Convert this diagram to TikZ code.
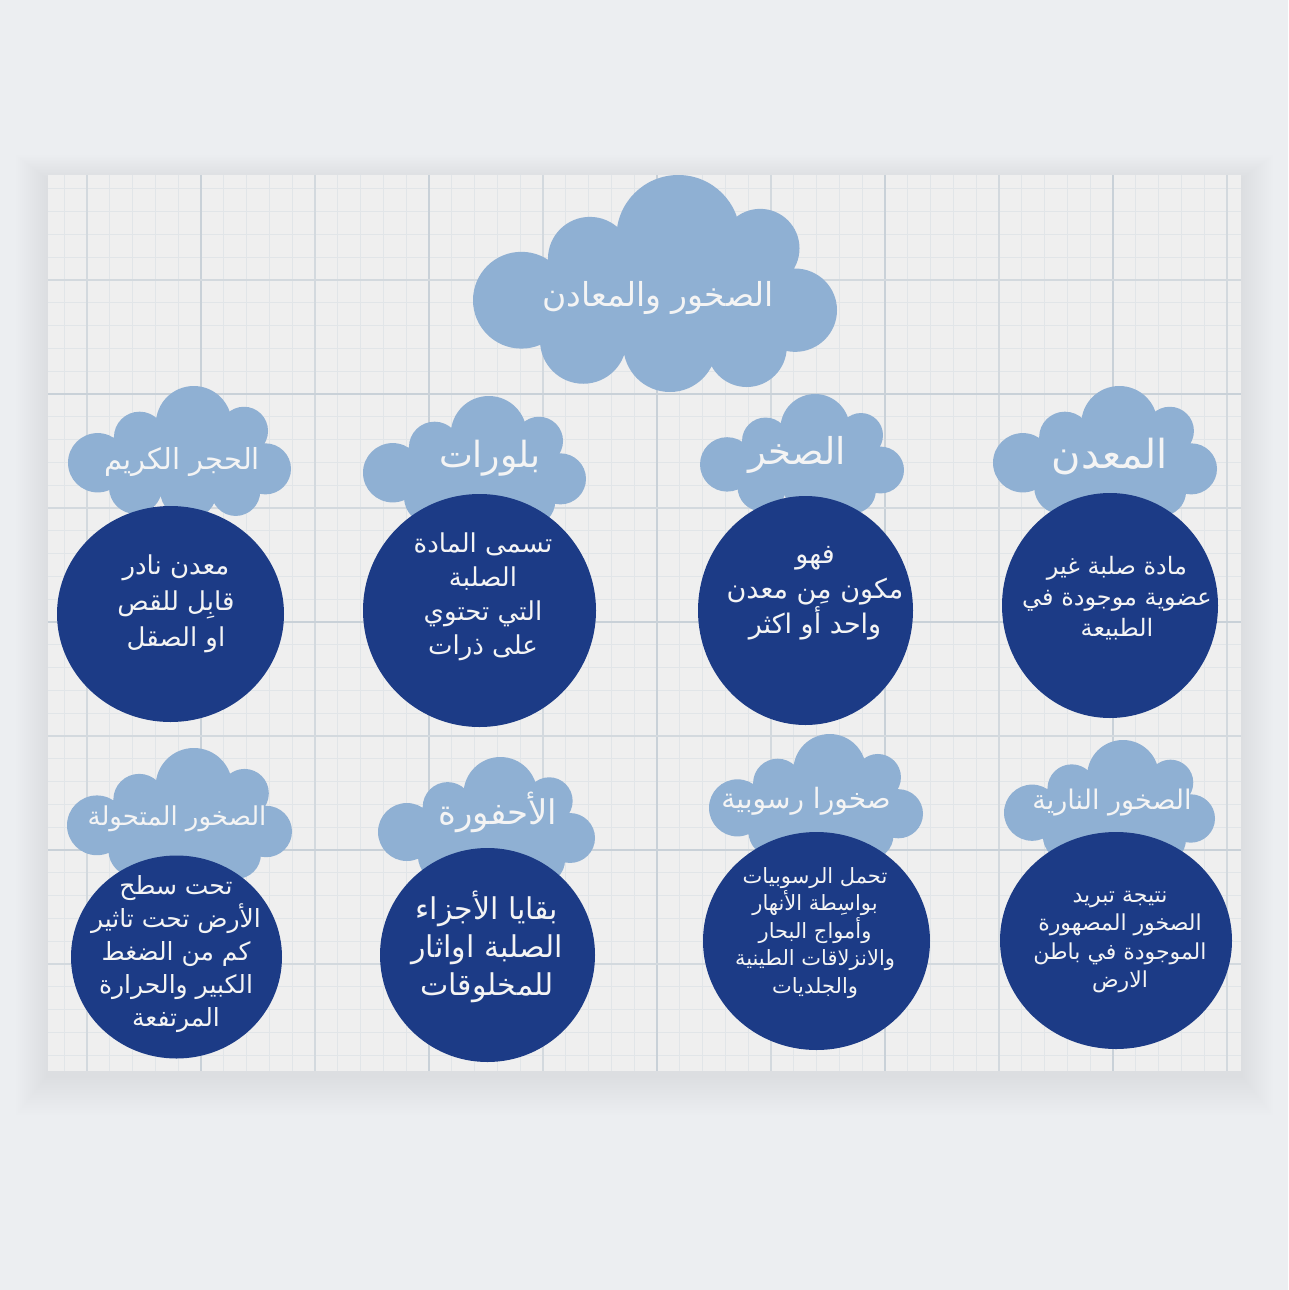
\documentclass[tikz,border=0pt]{standalone}
\usepackage{fontspec}
\newfontfamily\arabicfont[Script=Arabic]{DejaVu Sans}
\TeXXeTstate=1
\definecolor{bgc}{HTML}{ECEEF1}
\definecolor{panelc}{HTML}{EFEFEF}
\definecolor{gminor}{HTML}{E1E5E8}
\definecolor{gmed}{HTML}{D3D9DE}
\definecolor{gmaj}{HTML}{C9D1D8}
\definecolor{cloudc}{HTML}{8FB0D3}
\definecolor{circc}{HTML}{1C3B86}
\definecolor{txtc}{HTML}{F4F4F4}
\newcommand\AR[1]{\beginR #1\endR}
\newcommand\drawcloud[4]{%
\begin{scope}[shift={(#1,#2)},xscale=#3,yscale=#4]
\fill[cloudc]
 (0.133,0.577) ellipse [x radius=0.133pt, y radius=0.223pt]
 (0.321,0.385) ellipse [x radius=0.115pt, y radius=0.192pt]
 (0.564,0.285) ellipse [x radius=0.170pt, y radius=0.285pt]
 (0.789,0.338) ellipse [x radius=0.108pt, y radius=0.182pt]
 (0.885,0.623) ellipse [x radius=0.115pt, y radius=0.192pt]
 (0.752,0.792) ellipse [x radius=0.110pt, y radius=0.185pt]
 (0.541,0.785) ellipse [x radius=0.128pt, y radius=0.215pt]
 (0.303,0.762) ellipse [x radius=0.119pt, y radius=0.200pt];
\fill[cloudc] (0.133,0.577) -- (0.321,0.385) -- (0.564,0.285) -- (0.789,0.338)
 -- (0.885,0.623) -- (0.752,0.792) -- (0.541,0.785) -- (0.303,0.762) -- cycle;
\end{scope}}
\newcommand\drawdisc[4]{\fill[circc] (#1,#2) ellipse [x radius=#3pt, y radius=#4pt];}
\tikzset{
  ctext/.style={text=txtc, inner sep=0pt, align=center},
}
\begin{document}
\begin{tikzpicture}[x=1pt,y=-1pt]
\fill[bgc] (0,0) rectangle (1288,1290);
\useasboundingbox (0,0) rectangle (1288,1290);
% soft shadow
\foreach \i in {1,...,16}{
  \fill[black!70!blue, opacity=0.003] (48-2*\i,175-1.5*\i+4) rectangle (1241+2*\i,1071+2.5*\i+4);
}
% panel
\fill[panelc] (48,175) rectangle (1241,1071);
\begin{scope}
\clip (48,175) rectangle (1241,1071);
\foreach \k in {-2,...,52}{
  \draw[gminor, line width=1pt] (87+22.8*\k,175) -- (87+22.8*\k,1071);
}
\foreach \k in {-5,...,35}{
  \draw[gminor, line width=1pt] (48,280+22.8*\k) -- (1241,280+22.8*\k);
}
\foreach \xx in {87,315,543,771,999,1227}{
  \draw[gmed, line width=1.5pt] (\xx,175) -- (\xx,1071);
}
\foreach \xx in {201,429,657,885,1113}{
  \draw[gmaj, line width=2pt] (\xx,175) -- (\xx,1071);
}
\foreach \yy in {280,508,736,964}{
  \draw[gmed, line width=1.5pt] (48,\yy) -- (1241,\yy);
}
\foreach \yy in {394,622,850}{
  \draw[gmaj, line width=2pt] (48,\yy) -- (1241,\yy);
}
\end{scope}
% clouds
\drawcloud{473}{175}{364}{217}
\drawcloud{68}{386}{223}{133}
\drawcloud{363}{396}{223}{133}
\drawcloud{700}{394}{204}{122}
\drawcloud{993}{386}{224}{133}
\drawcloud{67}{748}{225}{134}
\drawcloud{378}{757}{217}{130}
\drawcloud{709}{734}{214}{128}
\drawcloud{1004}{740}{211}{126}
% discs
\drawdisc{170.5}{614}{113.5}{108}
\drawdisc{479.5}{610.5}{116.5}{116.5}
\drawdisc{805.5}{610.5}{107.5}{114.5}
\drawdisc{1110}{605.5}{108}{112.5}
\drawdisc{176.5}{957}{105.5}{101.5}
\drawdisc{487.5}{955}{107.5}{107}
\drawdisc{816.5}{941}{113.5}{109}
\drawdisc{1116}{940.5}{116}{108.5}
% title
\node[ctext, font=\arabicfont\fontsize{33}{38}\selectfont] (title) at (658,298) {\AR{الصخور والمعادن}};
% row 1 cloud labels
\node[ctext, font=\arabicfont\fontsize{29}{34}\selectfont] (h1) at (182,462) {\AR{الحجر الكريم}};
\node[ctext, font=\arabicfont\fontsize{36}{40}\selectfont] (h2) at (490,458) {\AR{بلورات}};
\node[ctext, font=\arabicfont\fontsize{37}{40}\selectfont] (h3) at (797,455) {\AR{الصخر}};
\node[ctext, font=\arabicfont\fontsize{40}{44}\selectfont] (h4) at (1110,457) {\AR{المعدن}};
% row 1 disc texts
\node[ctext, font=\arabicfont\fontsize{26}{36}\selectfont] (t1) at (176,604) {\AR{معدن نادر}\\\AR{قابِل للقص}\\\AR{او الصقل}};
\node[ctext, font=\arabicfont\fontsize{26}{34}\selectfont] (t2) at (483,597) {\AR{تسمى المادة}\\\AR{الصلبة}\\\AR{التي تحتوي}\\\AR{على ذرات}};
\node[ctext, font=\arabicfont\fontsize{27}{35}\selectfont] (t3) at (815,593) {\AR{فهو}\\\AR{مكون مِن معدن}\\\AR{واحد أو اكثر}};
\node[ctext, font=\arabicfont\fontsize{24}{31}\selectfont] (t4) at (1117,598) {\AR{مادة صلبة غير}\\\AR{عضوية موجودة في}\\\AR{الطبيعة}};
% row 2 cloud labels
\node[ctext, font=\arabicfont\fontsize{26}{30}\selectfont] (h5) at (177,819) {\AR{الصخور المتحولة}};
\node[ctext, font=\arabicfont\fontsize{34}{38}\selectfont] (h6) at (498,812) {\AR{الأحفورة}};
\node[ctext, font=\arabicfont\fontsize{28}{32}\selectfont] (h7) at (806,801) {\AR{صخورا رسوبية}};
\node[ctext, font=\arabicfont\fontsize{27}{32}\selectfont] (h8) at (1112,803) {\AR{الصخور النارية}};
% row 2 disc texts
\node[ctext, font=\arabicfont\fontsize{25}{33}\selectfont] (t5) at (176,954) {\AR{تحت سطح}\\\AR{الأرض تحت تاثير}\\\AR{كم من الضغط}\\\AR{الكبير والحرارة}\\\AR{المرتفعة}};
\node[ctext, font=\arabicfont\fontsize{30}{38}\selectfont] (t6) at (487,947) {\AR{بقايا الأجزاء}\\\AR{الصلبة اواثار}\\\AR{للمخلوقات}};
\node[ctext, font=\arabicfont\fontsize{21}{27.5}\selectfont] (t7) at (815,933) {\AR{تحمل الرسوبيات}\\\AR{بواسِطة الأنهار}\\\AR{وأمواج البحار}\\\AR{والانزلاقات الطينية}\\\AR{والجلديات}};
\node[ctext, font=\arabicfont\fontsize{22}{28.5}\selectfont] (t8) at (1120,942) {\AR{نتيجة تبريد}\\\AR{الصخور المصهورة}\\\AR{الموجودة في باطن}\\\AR{الارض}};
\end{tikzpicture}
\end{document}
